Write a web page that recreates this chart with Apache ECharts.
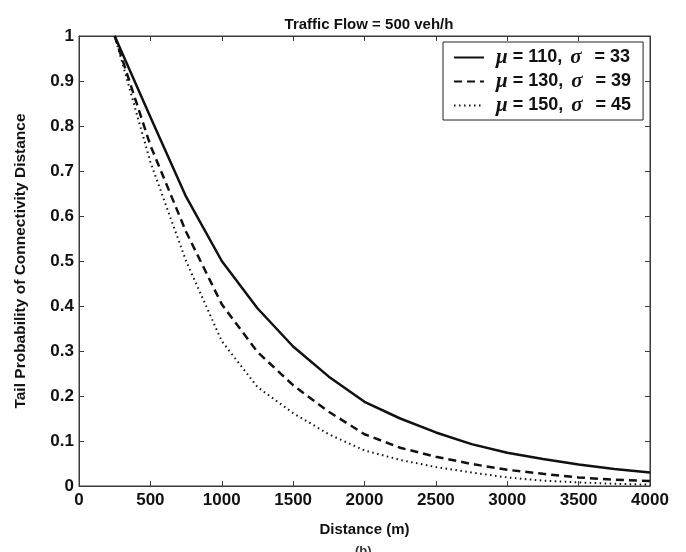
<!DOCTYPE html>
<html>
<head>
<meta charset="utf-8">
<script src="https://cdn.jsdelivr.net/npm/echarts@6/dist/echarts.min.js"></script>
<style>
  html, body { margin: 0; padding: 0; background: #fff; }
  #chart { width: 686px; height: 552px; }
</style>
</head>
<body>
<div id="chart"></div>
<script>
// distance samples (m) and tail probabilities
var distance = [250, 500, 750, 1000, 1250, 1500, 1750, 2000, 2250, 2500, 2750, 3000, 3250, 3500, 3750, 4000];
var tail_mu110 = [1.0, 0.82, 0.643, 0.50, 0.395, 0.31, 0.243, 0.187, 0.150, 0.119, 0.093, 0.074, 0.060, 0.048, 0.038, 0.030];
var tail_mu130 = [1.0, 0.757, 0.565, 0.404, 0.298, 0.224, 0.165, 0.115, 0.085, 0.065, 0.049, 0.036, 0.027, 0.019, 0.014, 0.011];
var tail_mu150 = [1.0, 0.72, 0.50, 0.322, 0.22, 0.162, 0.115, 0.079, 0.058, 0.042, 0.030, 0.019, 0.012, 0.008, 0.005, 0.003];

var legend_mu = ["110", "130", "150"];
var legend_sigma = ["33", "39", "45"];
var series_names = ["mu110", "mu130", "mu150"];

var fontFamily = "Liberation Sans, Arial, sans-serif";
var axisColor = "#3a3a3a";

function pairs(ys) {
    return distance.map(function (d, i) { return [d, ys[i]]; });
}

function legend_label(name) {
    var i = series_names.indexOf(name);
    return "{g|μ}{t| = " + legend_mu[i] + ", }{s|σ}{t|  = " + legend_sigma[i] + "}";
}

// ticks point into the plot, like the matlab box
function ticks() {
    return { show: true, inside: true, length: 5, lineStyle: { color: axisColor, width: 1 } };
}

function frame_line() {
    return { show: true, onZero: false, lineStyle: { color: axisColor, width: 1 } };
}

var chart = echarts.init(document.getElementById("chart"));

var greek = { fontFamily: "Liberation Serif, DejaVu Serif, serif", fontStyle: "italic", fontWeight: "bold", fontSize: 21, color: "#111", lineHeight: 18 };

var option = {
    animation: false,
    backgroundColor: "#fff",
    title: {
        text: "Traffic Flow = 500 veh/h",
        left: 364,
        top: 12,
        textAlign: "center",
        textStyle: { fontFamily: fontFamily, fontSize: 15, fontWeight: "bold", color: "#111" },
    },
    grid: { left: 79, right: 36, top: 36, bottom: 66, show: true, borderColor: axisColor, borderWidth: 1 },
    legend: {
        data: series_names,
        orient: "vertical",
        left: 443,
        top: 42,
        padding: [5, 12, 4, 10],
        borderColor: "#222",
        borderWidth: 1,
        backgroundColor: "#fff",
        itemWidth: 30,
        itemHeight: 14,
        itemGap: 3,
        itemStyle: { opacity: 0 },
        formatter: legend_label,
        textStyle: {
            color: "#111",
            padding: [0, 0, 0, 7],
            rich: {
                g: greek,
                s: Object.assign({}, greek, { padding: [0, 3, 0, 3] }),
                t: { fontFamily: fontFamily, fontWeight: "bold", fontSize: 18, color: "#111", lineHeight: 18 },
            },
        },
    },
    xAxis: [
        {
            type: "value",
            min: 0,
            max: 4000,
            interval: 500,
            name: "Distance (m)",
            nameLocation: "middle",
            nameGap: 36,
            nameTextStyle: { fontFamily: fontFamily, fontSize: 15, fontWeight: "bold", color: "#111" },
            axisLine: frame_line(),
            axisTick: ticks(),
            axisLabel: {
                fontFamily: fontFamily, fontSize: 17, fontWeight: "bold", color: "#111", margin: 6,
                formatter: function (v) { return String(v); },
            },
            splitLine: { show: false },
        },
        {
            type: "value",
            position: "top",
            min: 0,
            max: 4000,
            interval: 500,
            axisLine: frame_line(),
            axisTick: ticks(),
            axisLabel: { show: false },
            splitLine: { show: false },
        },
    ],
    yAxis: [
        {
            type: "value",
            min: 0,
            max: 1,
            interval: 0.1,
            name: "Tail Probability of Connectivity Distance",
            nameLocation: "middle",
            nameGap: 50,
            nameTextStyle: { fontFamily: fontFamily, fontSize: 15.5, fontWeight: "bold", color: "#111" },
            axisLine: frame_line(),
            axisTick: ticks(),
            axisLabel: { fontFamily: fontFamily, fontSize: 17, fontWeight: "bold", color: "#111", margin: 5 },
            splitLine: { show: false },
        },
        {
            type: "value",
            position: "right",
            min: 0,
            max: 1,
            interval: 0.1,
            axisLine: frame_line(),
            axisTick: ticks(),
            axisLabel: { show: false },
            splitLine: { show: false },
        },
    ],
    series: [
        {
            name: series_names[0],
            type: "line",
            data: pairs(tail_mu110),
            symbol: "none",
            lineStyle: { color: "#111", width: 2.5, type: "solid" },
            itemStyle: { color: "#111" },
        },
        {
            name: series_names[1],
            type: "line",
            data: pairs(tail_mu130),
            symbol: "none",
            lineStyle: { color: "#111", width: 2.5, type: [8, 5] },
            itemStyle: { color: "#111" },
        },
        {
            name: series_names[2],
            type: "line",
            data: pairs(tail_mu150),
            symbol: "none",
            lineStyle: { color: "#111", width: 2, type: [1.5, 3.5] },
            itemStyle: { color: "#111" },
        },
        {
            // empty series so the top and right frame axes get drawn
            name: "frame",
            type: "line",
            xAxisIndex: 1,
            yAxisIndex: 1,
            data: [],
            silent: true,
        },
    ],
    graphic: [
        {
            type: "text",
            left: 355,
            top: 545,
            style: { text: "(b)", font: "bold 13px " + fontFamily, fill: "#333" },
        },
    ],
};

chart.setOption(option);
</script>
</body>
</html>
